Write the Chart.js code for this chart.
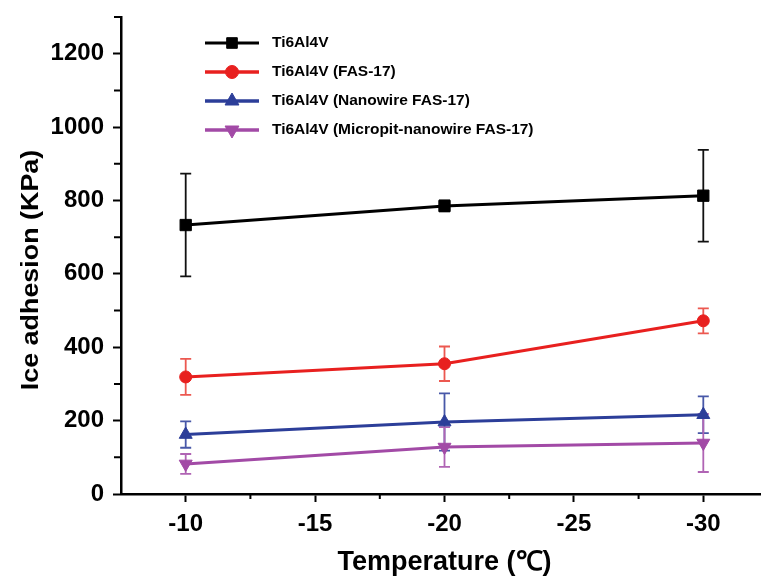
<!doctype html>
<html>
<head>
<title>Ice adhesion</title>
<script src="https://cdn.jsdelivr.net/npm/chart.js@4.4.0/dist/chart.umd.min.js"></script>
<style>
  html, body { margin: 0; padding: 0; background: #fff; overflow: hidden; }
  #wrap { position: absolute; left: 0; top: 0; width: 777px; height: 582px; }
</style>
</head>
<body>
<div id="wrap">
  <canvas id="canvas" width="777" height="582"></canvas>
</div>
<script>
// data
var temps = [-10, -20, -30];
var ti = [733, 785, 813];
var tiErr = [140, 15, 125];
var fas = [319, 355, 472];
var fasErr = [49, 47, 34];
var nano = [162, 196, 216];
var nanoErr = [36, 78, 50];
var micro = [82, 128, 139];
var microErr = [27, 54, 79];

var labels = ['Ti6Al4V', 'Ti6Al4V (FAS-17)', 'Ti6Al4V (Nanowire FAS-17)', 'Ti6Al4V (Micropit-nanowire FAS-17)'];
var xTicks = [-32.5, -30, -27.5, -25, -22.5, -20, -17.5, -15, -12.5, -10, -7.5];
var yTicks = [0, 100, 200, 300, 400, 500, 600, 700, 800, 900, 1000, 1100, 1200, 1300];

var FONT = "'Liberation Sans', Arial, sans-serif";

function pts(vals) {
    return temps.map(function (t, i) { return { x: t, y: vals[i] }; });
}

function makeSet(label, vals, errs, color, errColor, style, radius, rot) {
    return {
        label: label,
        data: pts(vals),
        errors: errs,
        errColor: errColor,
        borderColor: color,
        backgroundColor: color,
        borderWidth: 3,
        pointStyle: style,
        pointRadius: radius,
        pointHoverRadius: radius,
        pointRotation: rot || 0,
        pointBorderWidth: 1,
        tension: 0
    };
}

var datasets = [
    makeSet(labels[0], ti, tiErr, '#000000', '#111111', 'rect', 8),
    makeSet(labels[1], fas, fasErr, '#e8201f', '#ec5850', 'circle', 6),
    makeSet(labels[2], nano, nanoErr, '#2c3e99', '#4858a8', 'triangle', 7.5),
    makeSet(labels[3], micro, microErr, '#a24aa6', '#b064b4', 'triangle', 7.5, 180)
];

// error bars, drawn under the markers
var errorBars = {
    id: 'errorBars',
    beforeDatasetsDraw: function (chart) {
        var ctx = chart.ctx, xs = chart.scales.x, ys = chart.scales.y;
        ctx.save();
        chart.data.datasets.forEach(function (ds) {
            ctx.strokeStyle = ds.errColor;
            ctx.lineWidth = 1.8;
            ds.data.forEach(function (p, j) {
                var e = ds.errors[j];
                var x = xs.getPixelForValue(p.x);
                var y1 = ys.getPixelForValue(p.y + e);
                var y2 = ys.getPixelForValue(p.y - e);
                ctx.beginPath();
                ctx.moveTo(x, y1); ctx.lineTo(x, y2);
                ctx.moveTo(x - 5.5, y1); ctx.lineTo(x + 5.5, y1);
                ctx.moveTo(x - 5.5, y2); ctx.lineTo(x + 5.5, y2);
                ctx.stroke();
            });
        });
        ctx.restore();
    }
};

// minor ticks, y title and the legend inside the plot
var extras = {
    id: 'extras',
    afterDraw: function (chart) {
        var ctx = chart.ctx, xs = chart.scales.x, ys = chart.scales.y;
        var area = chart.chartArea;
        ctx.save();
        ctx.strokeStyle = '#000';
        ctx.lineWidth = 2;
        ctx.beginPath();
        xTicks.forEach(function (v) {
            if (v % 5 !== 0 && v !== -7.5) {
                var x = xs.getPixelForValue(v);
                ctx.moveTo(x, area.bottom); ctx.lineTo(x, area.bottom + 5);
            }
        });
        yTicks.forEach(function (v) {
            if (v % 200 !== 0) {
                var y = ys.getPixelForValue(v);
                ctx.moveTo(area.left, y); ctx.lineTo(area.left - 7, y);
            }
        });
        ctx.stroke();

        // y axis title
        ctx.save();
        ctx.translate(31, 270);
        ctx.rotate(-Math.PI / 2);
        ctx.scale(1.12, 1);
        ctx.font = 'bold 24px ' + FONT;
        ctx.fillStyle = '#000';
        ctx.textAlign = 'center';
        ctx.textBaseline = 'middle';
        ctx.fillText('Ice adhesion (KPa)', 0, 0);
        ctx.restore();

        // legend
        ctx.font = 'bold 15.5px ' + FONT;
        ctx.textBaseline = 'middle';
        ctx.textAlign = 'left';
        chart.data.datasets.forEach(function (ds, i) {
            var y = 43 + i * 29;
            ctx.strokeStyle = ds.borderColor;
            ctx.lineWidth = i === 0 ? 3 : 3.5;
            ctx.beginPath();
            ctx.moveTo(205, y); ctx.lineTo(259, y);
            ctx.stroke();
            ctx.fillStyle = ds.backgroundColor;
            ctx.lineWidth = 1;
            Chart.helpers.drawPoint(ctx, {
                pointStyle: ds.pointStyle,
                radius: ds.pointStyle === 'rect' ? 7.5 : (ds.pointStyle === 'circle' ? 6.5 : 8),
                rotation: ds.pointRotation,
                borderWidth: 1
            }, 232, y);
            ctx.fillStyle = '#000';
            ctx.fillText(ds.label, 272, y);
        });
        ctx.restore();
    }
};

var config = {
    type: 'line',
    data: { datasets: datasets },
    options: {
        responsive: false,
        animation: false,
        layout: { padding: { top: 17, left: 0, right: 0, bottom: 0 } },
        plugins: {
            legend: { display: false },
            tooltip: { enabled: false }
        },
        scales: {
            x: {
                type: 'linear',
                reverse: true,
                min: -32.5,
                max: -7.5,
                afterBuildTicks: function (scale) {
                    scale.ticks = xTicks.map(function (v) { return { value: v }; });
                },
                afterFit: function (scale) {
                    scale.height = 88;
                    scale.paddingLeft = 0;
                    scale.paddingRight = 0;
                },
                border: { display: true, color: '#000', width: 2.5 },
                grid: {
                    drawOnChartArea: false,
                    drawTicks: true,
                    tickLength: 8,
                    tickWidth: 2,
                    tickColor: function (c) {
                        return c.tick && c.tick.value % 5 === 0 ? '#000' : 'rgba(0,0,0,0)';
                    }
                },
                ticks: {
                    autoSkip: false,
                    maxRotation: 0,
                    padding: 8,
                    color: '#000',
                    font: { family: FONT, size: 24, weight: 'bold' },
                    callback: function (v) { return v % 5 === 0 ? String(v) : ''; }
                },
                title: {
                    display: true,
                    text: 'Temperature (℃)',
                    color: '#000',
                    font: { family: FONT, size: 27, weight: 'bold' },
                    padding: { top: 0, bottom: 3 }
                }
            },
            y: {
                min: 0,
                max: 1300,
                afterBuildTicks: function (scale) {
                    scale.ticks = yTicks.map(function (v) { return { value: v }; });
                },
                afterFit: function (scale) {
                    scale.width = 121;
                    scale.paddingTop = 0;
                    scale.paddingBottom = 0;
                },
                border: { display: true, color: '#000', width: 2.5 },
                grid: {
                    drawOnChartArea: false,
                    drawTicks: true,
                    tickLength: 8,
                    tickWidth: 2,
                    tickColor: function (c) {
                        return c.tick && c.tick.value % 200 === 0 ? '#000' : 'rgba(0,0,0,0)';
                    }
                },
                ticks: {
                    autoSkip: false,
                    padding: 9,
                    color: '#000',
                    font: { family: FONT, size: 24, weight: 'bold' },
                    callback: function (v) { return v % 200 === 0 ? String(v) : ''; }
                }
            }
        }
    },
    plugins: [errorBars, extras]
};

window.myChart = new Chart(document.getElementById('canvas'), config);
</script>
</body>
</html>
